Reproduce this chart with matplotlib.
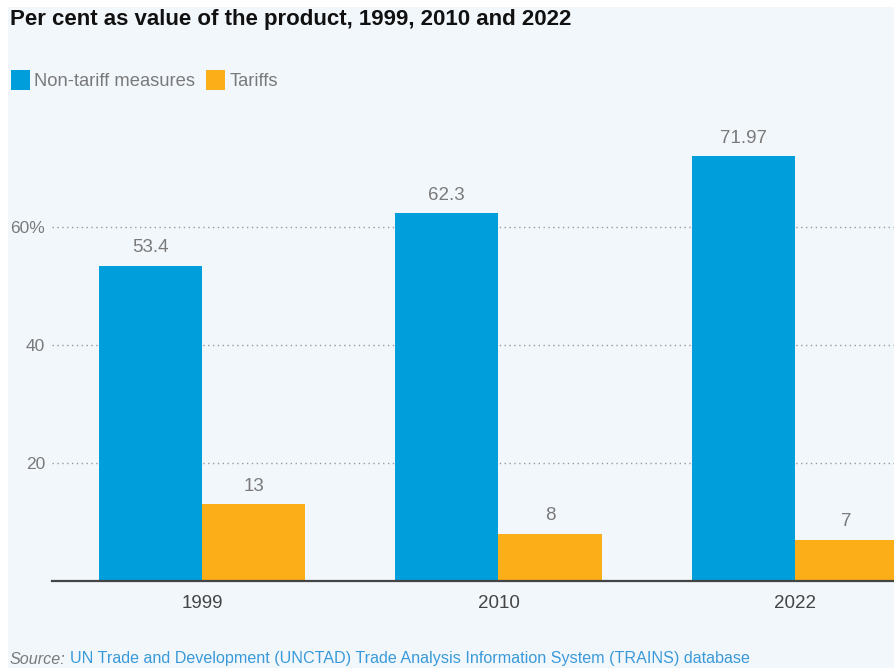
import matplotlib
matplotlib.use('Agg')
import matplotlib.pyplot as plt
from matplotlib.patches import Patch, Rectangle
import numpy as np

# Daten
jahre = ['1999', '2010', '2022']
nicht_tarifaer = [53.4, 62.3, 71.97]
zoelle = [13, 8, 7]
nt_labels = ['53.4', '62.3', '71.97']
z_labels = ['13', '8', '7']
y_ticks = [20, 40, 60]
y_ticklabels = ['20', '40', '60%']

BLAU = '#009edb'
ORANGE = '#fbae17'
HINTERGRUND = '#f2f7fc'
GRAU = '#7a7a7a'

schrift = ['Liberation Sans', 'DejaVu Sans']

fig = plt.figure(figsize=(8.94, 6.68), dpi=100, facecolor='white')
# hellblaue Fläche hinter dem Diagramm
fig.patches.append(Rectangle((8 / 894, 0), 1, 1 - 7 / 668, transform=fig.transFigure,
                             facecolor=HINTERGRUND, edgecolor='none', zorder=-10))

ax = fig.add_axes([52 / 894, 87 / 668, 842 / 894, 472 / 668])
ax.set_facecolor('none')

x = np.arange(len(jahre))
breite = 0.349
b1 = ax.bar(x - breite / 2, nicht_tarifaer, breite, color=BLAU, zorder=3)
b2 = ax.bar(x + breite / 2, zoelle, breite, color=ORANGE, zorder=3)

for balken, texte in ((b1, nt_labels), (b2, z_labels)):
    for rect, txt in zip(balken, texte):
        ax.annotate(txt, (rect.get_x() + rect.get_width() / 2, rect.get_height()),
                    xytext=(0, 7), textcoords='offset points', ha='center', va='bottom',
                    fontsize=13.5, color=GRAU, family=schrift)

ax.set_xlim(-0.506, 2.334)
ax.set_ylim(0, 80)
ax.set_xticks(x)
ax.set_xticklabels(jahre, fontsize=13.5, color='#444444', family=schrift)
ax.set_yticks(y_ticks)
ax.set_yticklabels(y_ticklabels, fontsize=12.5, color=GRAU, family=schrift)
ax.tick_params(axis='both', length=0)
ax.tick_params(axis='y', pad=5)
ax.tick_params(axis='x', pad=10)
ax.grid(axis='y', linestyle=(0, (1, 2.5)), color='#9a9a9a', linewidth=1, zorder=1)

for s in ['top', 'right', 'left']:
    ax.spines[s].set_visible(False)
ax.spines['bottom'].set_color('#444444')
ax.spines['bottom'].set_linewidth(1.6)
ax.spines['bottom'].set_zorder(4)

fig.text(10 / 894, 1 - 20 / 668, 'Per cent as value of the product, 1999, 2010 and 2022',
         fontsize=16, fontweight='bold', color='#111111', family=schrift, va='center')

handles = [Patch(facecolor=BLAU, label='Non-tariff measures'),
           Patch(facecolor=ORANGE, label='Tariffs')]
leg = fig.legend(handles=handles, loc='center left', bbox_to_anchor=(4 / 894, 1 - 80 / 668),
                 ncol=2, frameon=False, handlelength=1.0, handleheight=1.3,
                 handletextpad=0.25, columnspacing=0.6, borderaxespad=0,
                 prop={'family': schrift, 'size': 13.2})
for t in leg.get_texts():
    t.set_color(GRAU)

t1 = fig.text(10 / 894, 1 - 659 / 668, 'Source:', fontsize=11.6, style='italic',
              color=GRAU, family=schrift, va='center')
fig.canvas.draw()
bb = t1.get_window_extent()
fig.text((bb.x1 + 4) / 894, 1 - 659 / 668,
         'UN Trade and Development (UNCTAD) Trade Analysis Information System (TRAINS) database',
         fontsize=11.6, color='#3a9ad9', family=schrift, va='center')

fig.savefig('out.png', dpi=100, facecolor=fig.get_facecolor())
